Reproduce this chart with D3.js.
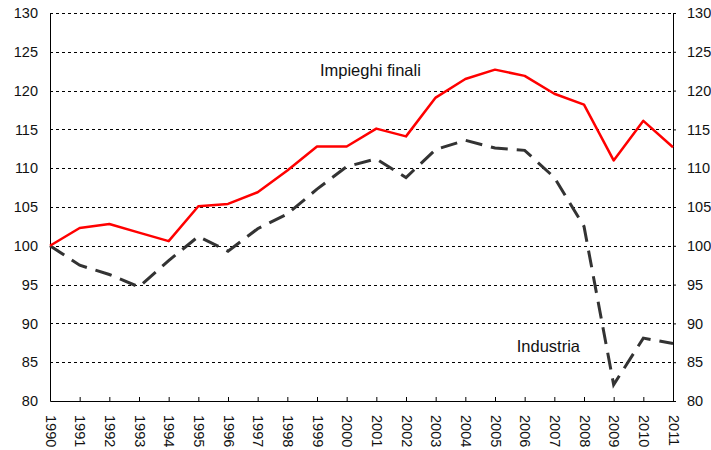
<!DOCTYPE html>
<html>
<head>
<meta charset="utf-8">
<script src="https://cdn.jsdelivr.net/npm/d3@7"></script>
<style>
  body { margin: 0; background: #fff; }
  text { font-family: "Liberation Sans", Arial, sans-serif; fill: #111; }
</style>
</head>
<body>
<div id="chart"></div>
<script>
var totWidth = 711;
var totHeight = 450;

//-- Data
var years = [1990, 1991, 1992, 1993, 1994, 1995, 1996, 1997, 1998, 1999, 2000,
             2001, 2002, 2003, 2004, 2005, 2006, 2007, 2008, 2009, 2010, 2011];
var impieghiFinali = [100, 102.3, 102.8, 101.7, 100.6, 105.1, 105.4, 106.9, 109.7, 112.8, 112.8,
                      115.1, 114.1, 119.1, 121.5, 122.7, 121.9, 119.6, 118.2, 111.0, 116.1, 112.7];
var industria = [100, 97.5, 96.3, 94.7, 98.1, 101.2, 99.3, 102.2, 104.1, 107.3, 110.2,
                 111.2, 108.8, 112.4, 113.6, 112.6, 112.3, 108.8, 102.5, 82.1, 88.1, 87.4];
var yTicks = [80, 85, 90, 95, 100, 105, 110, 115, 120, 125, 130];

//-- Dimension & margin
var margin = {top: 13, right: 38, bottom: 49, left: 50},
    width = totWidth - margin.left - margin.right,
    height = totHeight - margin.top - margin.bottom;

var svg = d3.select("#chart")
  .append("svg")
    .attr("width", totWidth)
    .attr("height", totHeight)
  .append("g")
    .attr("transform", "translate(" + margin.left + "," + margin.top + ")");

//-- Scales
var x = d3.scaleLinear()
  .domain([years[0], years[years.length - 1]])
  .range([0, width]);

var y = d3.scaleLinear()
  .domain([80, 130])
  .range([height, 0]);

//-- Gridlines
svg.append("g")
  .selectAll("line")
  .data(yTicks.slice(1))
  .enter().append("line")
    .attr("x1", 0)
    .attr("x2", width)
    .attr("y1", function(d) { return Math.round(y(d)) + 0.5; })
    .attr("y2", function(d) { return Math.round(y(d)) + 0.5; })
    .attr("stroke", "#000")
    .attr("stroke-width", 1)
    .attr("stroke-dasharray", "3,3");

//-- Left y-axis
var yAxisLeft = d3.axisLeft(y)
  .tickValues(yTicks)
  .tickSize(0)
  .tickPadding(12);

svg.append("g")
  .call(yAxisLeft)
  .call(function(g) { g.select(".domain").attr("stroke", "#000"); })
  .selectAll("text")
    .style("font-size", "14.5px")
    .attr("fill", "#111");

//-- Right y-axis
var yAxisRight = d3.axisRight(y)
  .tickValues(yTicks)
  .tickSize(3)
  .tickPadding(11);

svg.append("g")
  .attr("transform", "translate(" + width + ",0)")
  .call(yAxisRight)
  .call(function(g) { g.select(".domain").attr("stroke", "#000"); })
  .selectAll("text")
    .style("font-size", "14.5px")
    .attr("fill", "#111");

//-- X-axis (ticks pointing up, labels rotated)
var xAxis = d3.axisBottom(x)
  .tickValues(years)
  .tickSize(-4)
  .tickSizeOuter(0)
  .tickFormat(d3.format("d"));

svg.append("g")
  .attr("transform", "translate(0," + height + ")")
  .call(xAxis)
  .call(function(g) { g.select(".domain").attr("stroke", "#000"); })
  .selectAll("text")
    .style("font-size", "14.5px")
    .attr("fill", "#111")
    .style("text-anchor", "start")
    .attr("y", 0)
    .attr("dy", "0")
    .attr("transform", "translate(-5,14) rotate(90)");

//-- Lines
var line = function(values) {
  return d3.line()
    .x(function(d, i) { return x(years[i]); })
    .y(function(d) { return y(d); })(values);
};

svg.append("path")
  .attr("d", line(industria))
  .attr("fill", "none")
  .attr("stroke", "#333")
  .attr("stroke-width", 3)
  .attr("stroke-dasharray", "17,9");

svg.append("path")
  .attr("d", line(impieghiFinali))
  .attr("fill", "none")
  .attr("stroke", "#ff0000")
  .attr("stroke-width", 2.5)
  .attr("stroke-linejoin", "round");

//-- Labels
svg.append("text")
  .attr("x", x(2000.8))
  .attr("y", y(121.9))
  .attr("text-anchor", "middle")
  .style("font-size", "16.5px")
  .text("Impieghi finali");

svg.append("text")
  .attr("x", x(2006.8))
  .attr("y", y(86.3))
  .attr("text-anchor", "middle")
  .style("font-size", "16.5px")
  .text("Industria");
</script>
</body>
</html>
